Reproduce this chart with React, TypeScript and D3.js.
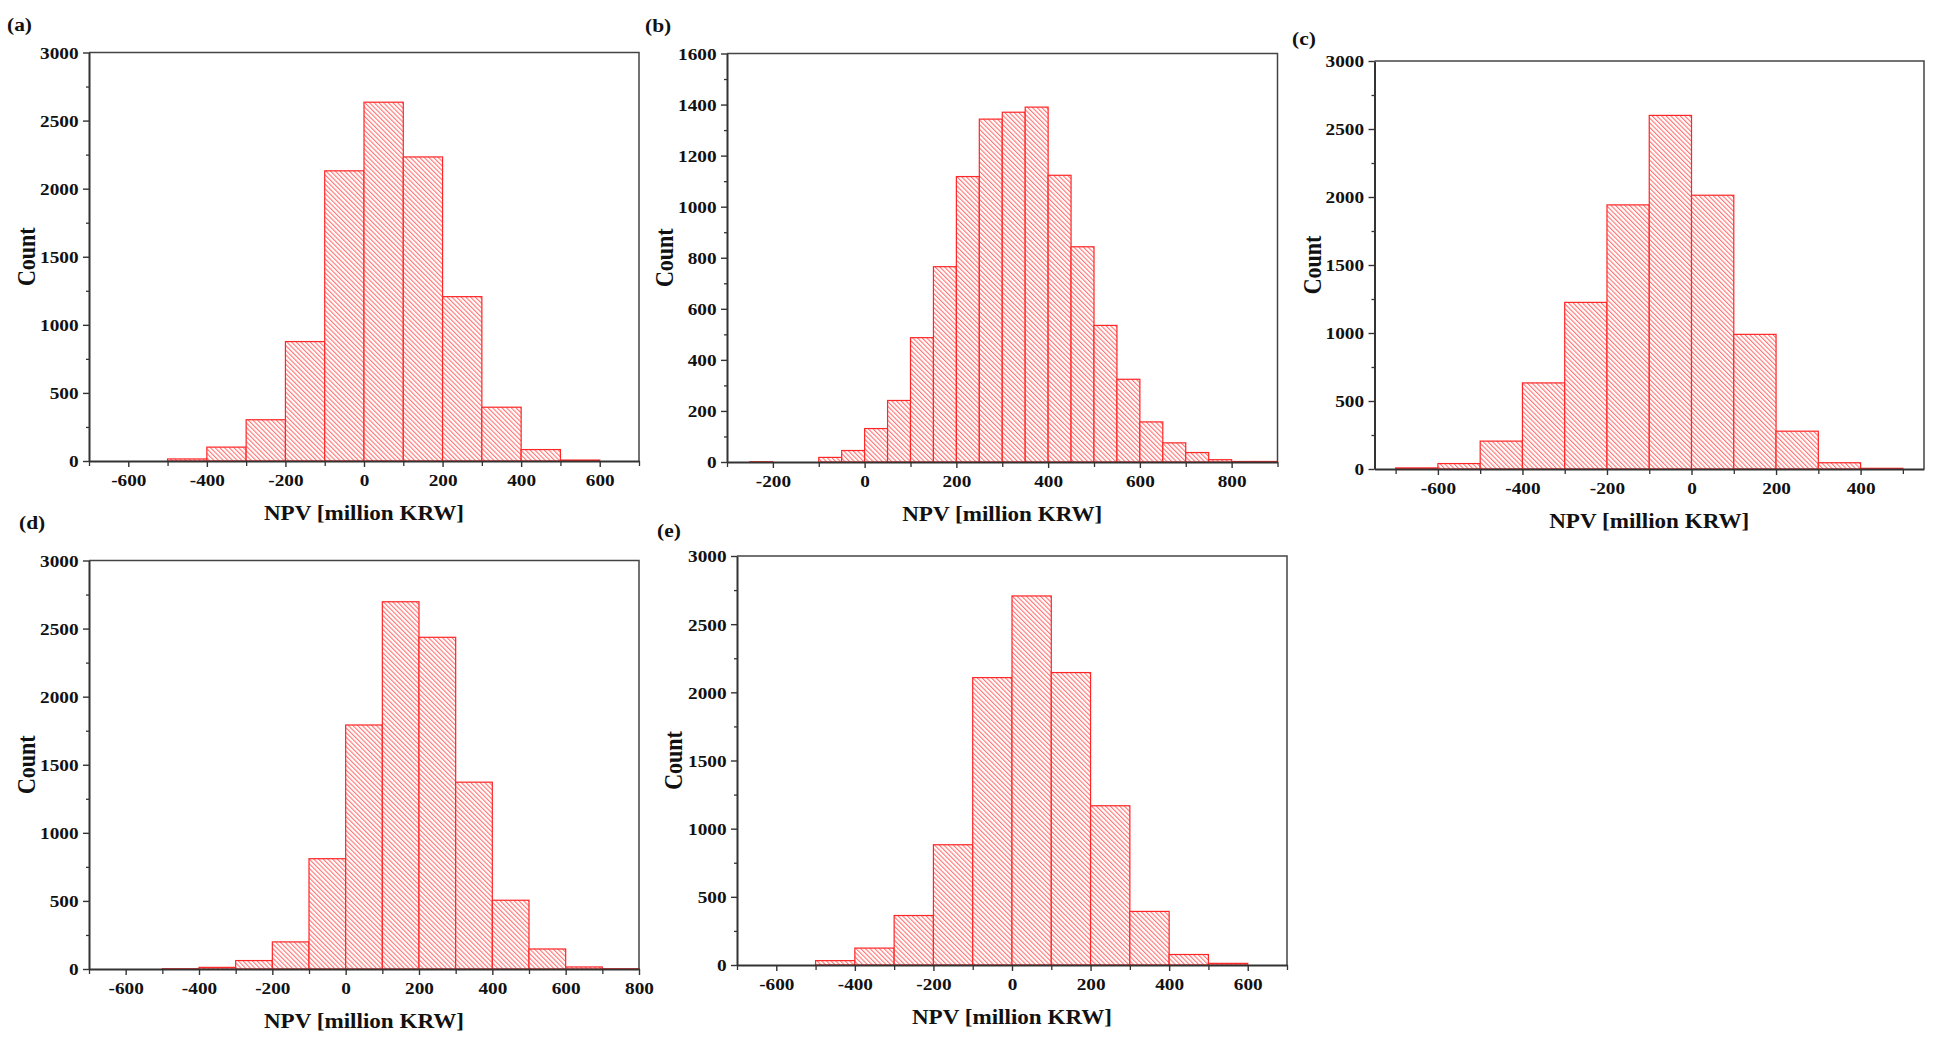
import React, { useEffect, useRef } from 'react'
import * as d3 from 'd3'

// Histogram bin edges (million KRW) and counts for each case
const edgesA = [-700, -600, -500, -400, -300, -200, -100, 0, 100, 200, 300, 400, 500, 600, 700]
const countsA = [0, 0, 15, 102, 303, 877, 2131, 2635, 2233, 1207, 395, 84, 7, 0]

const edgesB = [-250, -200, -150, -100, -50, 0, 50, 100, 150, 200, 250, 300, 350, 400, 450, 500, 550, 600, 650, 700, 750, 800, 850, 900]
const countsB = [1, 0, 0, 18, 45, 131, 241, 487, 765, 1118, 1343, 1370, 1390, 1123, 843, 535, 324, 157, 75, 37, 9, 2, 2]

const edgesC = [-700, -600, -500, -400, -300, -200, -100, 0, 100, 200, 300, 400, 500]
const countsC = [8, 40, 205, 633, 1225, 1942, 2600, 2013, 990, 278, 46, 5]

const edgesD = [-500, -400, -300, -200, -100, 0, 100, 200, 300, 400, 500, 600, 700, 800]
const countsD = [2, 12, 62, 199, 810, 1792, 2697, 2436, 1372, 505, 147, 15, 2]

const edgesE = [-500, -400, -300, -200, -100, 0, 100, 200, 300, 400, 500, 600]
const countsE = [32, 124, 363, 882, 2108, 2707, 2145, 1168, 393, 77, 12]

// axis ticks
const xTicksA = [-600, -400, -200, 0, 200, 400, 600]
const xTicksB = [-200, 0, 200, 400, 600, 800]
const xTicksC = [-600, -400, -200, 0, 200, 400]
const xTicksD = [-600, -400, -200, 0, 200, 400, 600, 800]
const xTicksE = [-600, -400, -200, 0, 200, 400, 600]
const yTicks3000 = [0, 500, 1000, 1500, 2000, 2500, 3000]
const yTicks1600 = [0, 200, 400, 600, 800, 1000, 1200, 1400, 1600]

const panelLabels = ['(a)', '(b)', '(c)', '(d)', '(e)']
const xTitle = 'NPV [million KRW]'
const yTitle = 'Count'

interface Panel {
  label: string
  edges: number[]
  counts: number[]
  xDomain: [number, number]
  xTicks: number[]
  xMinor: number
  yTicks: number[]
  box: { left: number; right: number; top: number; bottom: number }
  labelPos: [number, number]
  countX: number
}

const panels: Panel[] = [
  {
    label: panelLabels[0], edges: edgesA, counts: countsA, xDomain: [-700, 700], xTicks: xTicksA, xMinor: 100,
    yTicks: yTicks3000, box: { left: 89, right: 639, top: 52.5, bottom: 461 }, labelPos: [7, 31], countX: 27
  },
  {
    label: panelLabels[1], edges: edgesB, counts: countsB, xDomain: [-300, 900], xTicks: xTicksB, xMinor: 100,
    yTicks: yTicks1600, box: { left: 727, right: 1277.5, top: 53.5, bottom: 462 }, labelPos: [645, 32], countX: 665
  },
  {
    label: panelLabels[2], edges: edgesC, counts: countsC, xDomain: [-750, 550], xTicks: xTicksC, xMinor: 100,
    yTicks: yTicks3000, box: { left: 1374.5, right: 1924, top: 61, bottom: 469 }, labelPos: [1292, 45], countX: 1313
  },
  {
    label: panelLabels[3], edges: edgesD, counts: countsD, xDomain: [-700, 800], xTicks: xTicksD, xMinor: 100,
    yTicks: yTicks3000, box: { left: 89, right: 639, top: 560.5, bottom: 969 }, labelPos: [19, 529], countX: 27
  },
  {
    label: panelLabels[4], edges: edgesE, counts: countsE, xDomain: [-700, 700], xTicks: xTicksE, xMinor: 100,
    yTicks: yTicks3000, box: { left: 737, right: 1287, top: 556, bottom: 965 }, labelPos: [657, 537], countX: 674
  }
]

const FONT = '"Liberation Serif", "Times New Roman", serif'
const STRETCH = 1.1
const BAR_RED = '#ff2626'
const HATCH_RED = '#ff6464'
const AXIS = '#333'

export default function App() {
  const svgRef = useRef<SVGSVGElement>(null)

  useEffect(() => {
    if (!svgRef.current) return
    const svg = d3.select(svgRef.current)
    svg.selectAll('*').remove()

    // diagonal "\" hatch used by every bar
    const defs = svg.append('defs')
    const pat = defs.append('pattern')
      .attr('id', 'hatch')
      .attr('patternUnits', 'userSpaceOnUse')
      .attr('width', 3.3)
      .attr('height', 10)
      .attr('patternTransform', 'rotate(-45)')
    pat.append('rect').attr('width', 3.3).attr('height', 10).attr('fill', '#fff')
    pat.append('line')
      .attr('x1', 0.6).attr('y1', 0).attr('x2', 0.6).attr('y2', 10)
      .attr('stroke', HATCH_RED).attr('stroke-width', 1)

    // stretched bold serif text helper
    const addText = (
      parent: d3.Selection<any, unknown, null, undefined>,
      x: number, y: number, str: string, size: number, anchor: string, rotate = false
    ) => {
      const g = parent.append('g').attr('transform', `translate(${x},${y}) scale(${STRETCH},1)`)
      const t = g.append('text')
        .attr('text-anchor', anchor)
        .attr('font-family', FONT)
        .attr('font-weight', 'bold')
        .attr('font-size', size)
        .attr('fill', '#111')
        .text(str)
      if (rotate) t.attr('transform', 'rotate(-90)')
      return t
    }

    panels.forEach(p => {
      const { left, right, top, bottom } = p.box
      const x = d3.scaleLinear().domain(p.xDomain).range([left, right])
      const y = d3.scaleLinear().domain([0, p.yTicks[p.yTicks.length - 1]]).range([bottom, top])
      const g = svg.append('g')

      // bars
      const bins = p.counts.map((c, i) => ({ x0: p.edges[i], x1: p.edges[i + 1], count: c }))
      g.append('g')
        .selectAll('rect')
        .data(bins.filter(b => b.count > 0))
        .join('rect')
        .attr('x', d => x(d.x0))
        .attr('y', d => y(d.count))
        .attr('width', d => x(d.x1) - x(d.x0))
        .attr('height', d => y(0) - y(d.count))
        .attr('fill', 'url(#hatch)')
        .attr('stroke', BAR_RED)
        .attr('stroke-width', 1.2)

      // top and right frame
      g.append('path')
        .attr('d', `M${left},${top}H${right}V${bottom}`)
        .attr('fill', 'none')
        .attr('stroke', '#444')
        .attr('stroke-width', 1.5)

      // minor ticks
      const xMinorTicks = d3.range(Math.ceil(p.xDomain[0] / p.xMinor) * p.xMinor, p.xDomain[1] + 1, p.xMinor)
        .filter(v => !p.xTicks.includes(v))
      const yStep = p.yTicks[1] - p.yTicks[0]
      const yMinorTicks = p.yTicks.slice(0, -1).map(v => v + yStep / 2)

      g.append('g')
        .attr('transform', `translate(0,${bottom})`)
        .call(d3.axisBottom(x).tickValues(xMinorTicks).tickSize(5).tickSizeOuter(0).tickFormat(() => ''))
        .call(s => s.select('.domain').remove())
        .call(s => s.selectAll('line').attr('stroke', AXIS).attr('stroke-width', 1.3))
      g.append('g')
        .attr('transform', `translate(${left},0)`)
        .call(d3.axisLeft(y).tickValues(yMinorTicks).tickSize(3).tickSizeOuter(0).tickFormat(() => ''))
        .call(s => s.select('.domain').remove())
        .call(s => s.selectAll('line').attr('stroke', AXIS).attr('stroke-width', 1.3))

      // major axes
      const xAxis = g.append('g')
        .attr('transform', `translate(0,${bottom})`)
        .call(d3.axisBottom(x).tickValues(p.xTicks).tickSize(6).tickSizeOuter(0).tickFormat(d => String(d)))
      xAxis.select('.domain').attr('stroke', AXIS).attr('stroke-width', 2)
      xAxis.selectAll('line').attr('stroke', AXIS).attr('stroke-width', 1.4)
      xAxis.selectAll('text')
        .attr('font-family', FONT).attr('font-weight', 'bold').attr('font-size', 17.5)
        .attr('fill', '#111').attr('y', 25).attr('dy', null)
        .attr('transform', `scale(${STRETCH},1)`)

      const yAxis = g.append('g')
        .attr('transform', `translate(${left},0)`)
        .call(d3.axisLeft(y).tickValues(p.yTicks).tickSize(6).tickSizeOuter(0).tickFormat(d => String(d)))
      yAxis.select('.domain').attr('stroke', AXIS).attr('stroke-width', 2)
      yAxis.selectAll('line').attr('stroke', AXIS).attr('stroke-width', 1.4)
      yAxis.selectAll('text')
        .attr('font-family', FONT).attr('font-weight', 'bold').attr('font-size', 17.5)
        .attr('fill', '#111').attr('x', -9.5).attr('dy', '0.34em')
        .attr('transform', `scale(${STRETCH},1)`)

      // titles and panel letter
      addText(g, (left + right) / 2, bottom + 58.5, xTitle, 21, 'middle')
      addText(g, p.countX + 8, (top + bottom) / 2, yTitle, 22, 'middle', true)
      addText(g, p.labelPos[0], p.labelPos[1], p.label, 19.5, 'start')
    })
  }, [])

  return (
    <svg
      ref={svgRef}
      width={1937}
      height={1051}
      style={{ position: 'absolute', left: 0, top: 0, background: '#fff' }}
    />
  )
}
